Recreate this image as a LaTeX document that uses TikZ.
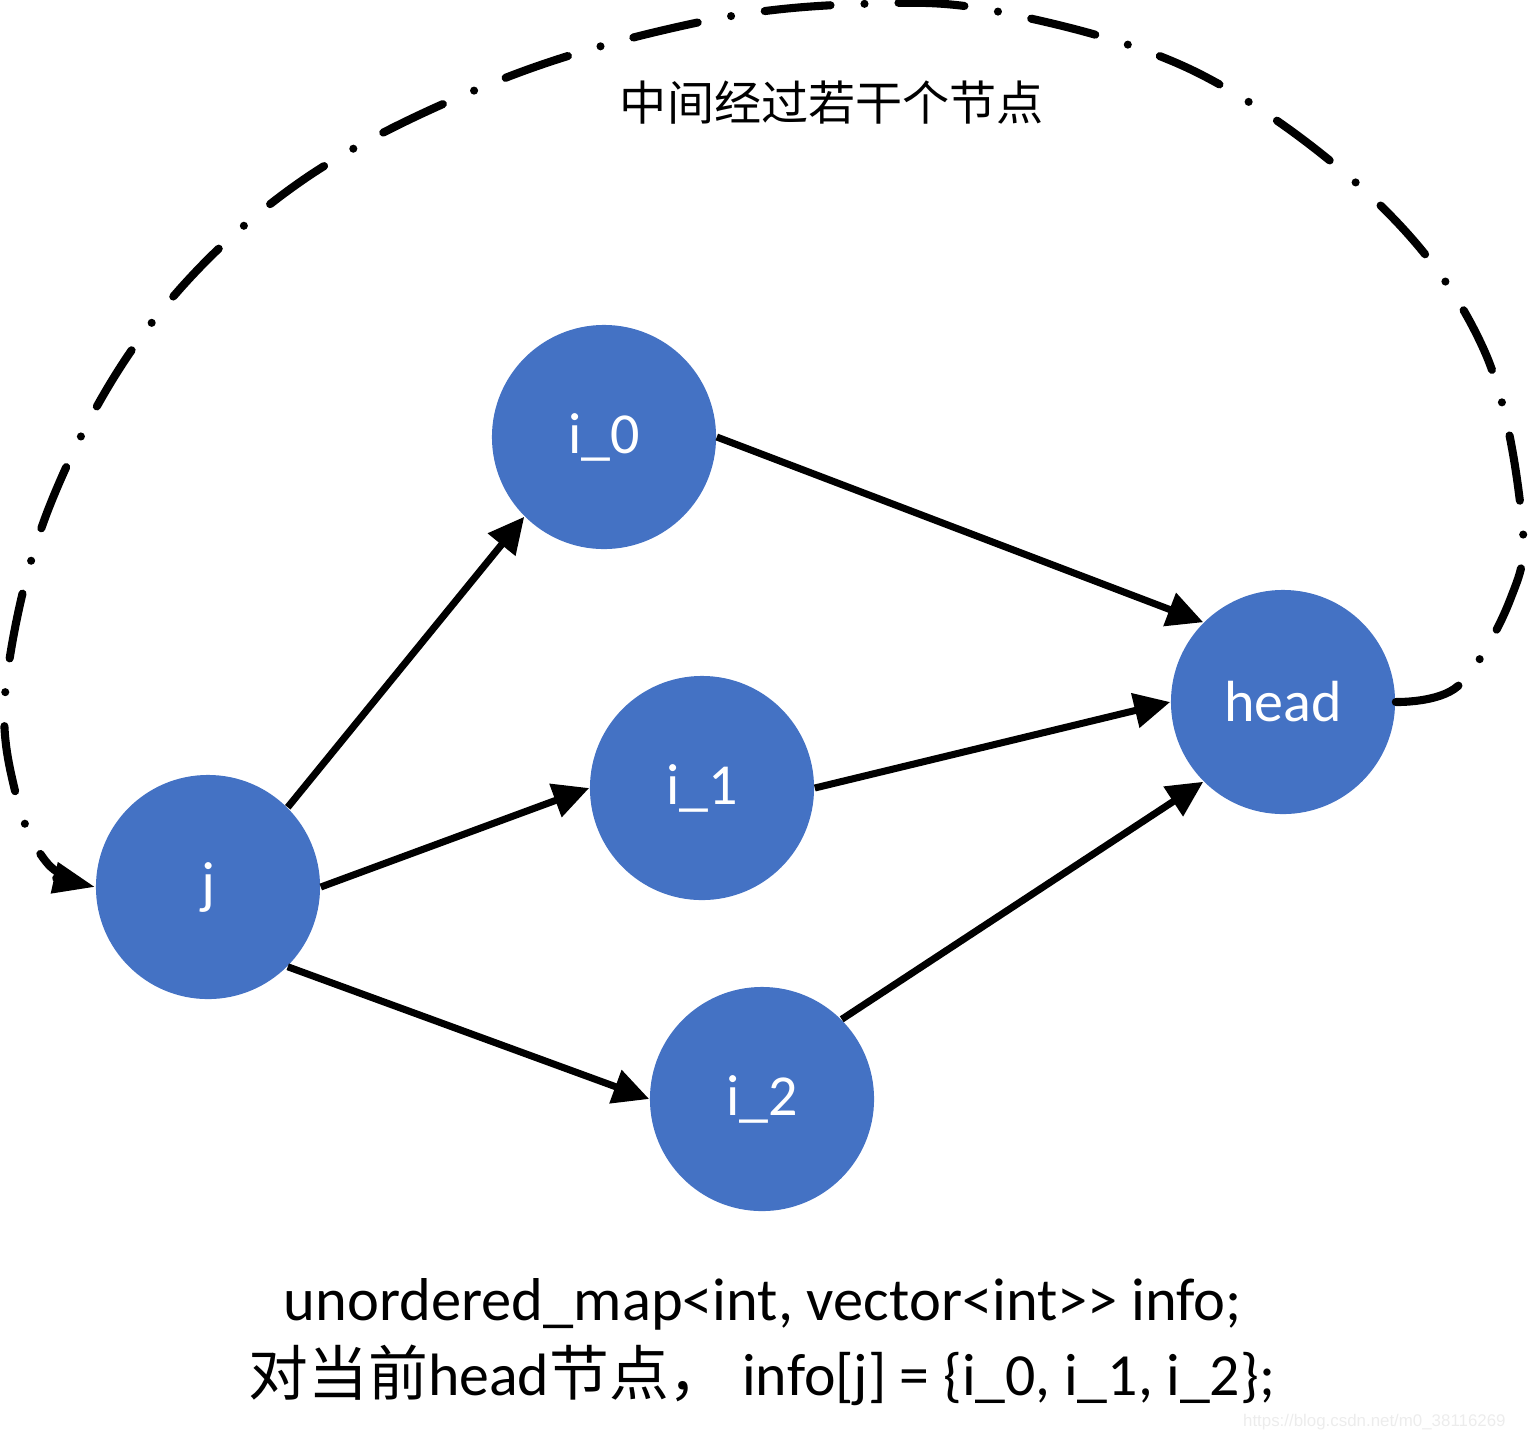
\documentclass[tikz,border=0pt]{standalone}
\usepackage{fontspec}
\setmainfont{Carlito}
\newfontfamily\cjk{Noto Sans CJK SC}
\newfontfamily\markfont{Liberation Sans}
\usetikzlibrary{arrows.meta}
\definecolor{nodeblue}{HTML}{4472C4}
\tikzset{vertex/.style={circle, fill=nodeblue, minimum size=2.24cm, inner sep=0pt, text=white, font=\fontsize{16.5}{20}\selectfont},
  link/.style={black, line width=2pt, -{Triangle[length=0.36cm,width=0.34cm]}},
  loopline/.style={black, line width=2.3pt, line cap=round, dash pattern=on 0.66cm off 0.34cm on 0cm off 0.34cm, -{Triangle[length=0.42cm,width=0.3cm]}}}

\begin{document}
\begin{tikzpicture}[x=0.01cm, y=-0.01cm]
   \useasboundingbox (0,0) rectangle (1528,1442);
   % nodes
   \node[vertex] (j) at (208,887) {j};
   \node[vertex] (i0) at (604,437) {i\_0};
   \node[vertex] (i1) at (702,788) {i\_1};
   \node[vertex] (i2) at (762,1099) {i\_2};
   \node[vertex] (head) at (1283,702) {head};
   % edges
   \draw[link] (j.north east) -- (i0.south west);
   \draw[link] (j.east) -- (i1.west);
   \draw[link] (j.south east) -- (i2.west);
   \draw[link] (i0.east) -- (head.north west);
   \draw[link] (i1.east) -- (head.west);
   \draw[link] (i2.north east) -- (head.south west);
   % way back from head to j
   \draw[loopline] plot[smooth, tension=0.6] coordinates {(head.east) (1458,686) (1510,600) (1522,520) (1484,350) (1380,205) (1200,74) (1000,12) (860,4) (700,22) (500,80) (300,182) (150,325) (50,505) (6,685) (16,795) (48,864) (j.west)};
   % texts
   \node (title) at (832,103) {\cjk\fontsize{13.4}{16}\selectfont 中间经过若干个节点};
   \node[anchor=base] (decl) at (763,1320) {\fontsize{17.2}{20}\selectfont unordered\_map<int, vector<int>{}> info;};
   \node[anchor=base] (note) at (762,1395) {\fontsize{17}{20}\selectfont{\cjk 对当前}head{\cjk 节点，} info[j] = \{i\_0, i\_1, i\_2\};};
   \node[anchor=base east, text=gray!15, font=\fontsize{4.8}{6}\markfont] (mark) at (1518,1426) {https://blog.csdn.net/m0\_38116269};
\end{tikzpicture}
\end{document}
